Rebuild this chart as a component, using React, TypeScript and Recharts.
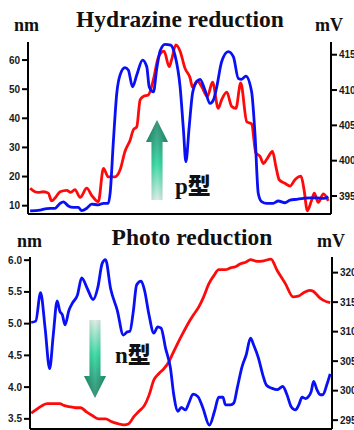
import React from 'react';
import { LineChart, Line, XAxis, YAxis } from 'recharts';

// ---------- Hydrazine reduction ----------
const hydBlueX = [0.7, 4.0, 6.2, 8.9, 10.6, 11.7, 13.3, 15.0, 16.6, 17.7, 19.4, 21.0, 23.2, 24.9, 26.5, 27.1, 28.2, 29.3, 30.4, 32.0, 33.1, 34.5, 35.9, 37.8, 39.2, 40.0, 41.4, 42.5, 43.6, 45.2, 47.1, 48.5, 50.2, 51.3, 52.1, 53.2, 54.3, 55.7, 56.8, 58.4, 60.1, 61.2, 62.3, 63.9, 66.1, 67.8, 69.4, 70.5, 71.9, 73.8, 74.9, 76.0, 77.1, 78.8, 80.9, 82.6, 84.8, 86.5, 88.7, 90.9, 93.1, 95.3, 97.5, 99.1];
const hydBlueNm = [8.2, 8.5, 9.0, 9.1, 10.8, 11.3, 9.9, 9.4, 9.4, 8.3, 9.1, 10.5, 10.3, 10.8, 10.8, 14.2, 32.5, 48.6, 54.9, 57.4, 56.6, 50.8, 54.9, 60.0, 57.7, 50.8, 49.1, 57.1, 63.1, 65.4, 65.1, 61.7, 50.8, 36.0, 25.1, 37.1, 48.6, 52.6, 53.4, 49.7, 45.1, 46.3, 50.8, 59.4, 62.9, 61.1, 53.7, 53.4, 54.5, 49.1, 34.8, 14.2, 11.4, 10.8, 10.8, 11.6, 11.0, 11.9, 12.2, 12.5, 12.7, 12.7, 12.5, 13.1];
const hydRedX = [0.7, 2.3, 3.4, 5.1, 6.7, 7.8, 8.9, 10.6, 12.8, 14.1, 15.5, 17.2, 19.4, 21.0, 23.2, 24.9, 26.5, 28.7, 30.4, 32.0, 33.7, 34.8, 35.9, 37.0, 38.1, 39.7, 41.4, 43.0, 44.9, 46.6, 47.4, 48.8, 50.2, 51.8, 53.5, 54.3, 55.9, 57.3, 59.2, 60.9, 62.8, 63.9, 65.6, 67.2, 68.6, 70.2, 72.2, 73.8, 75.2, 76.6, 77.7, 78.8, 80.7, 81.8, 82.9, 84.8, 86.5, 88.1, 90.1, 91.1, 92.2, 93.6, 94.5, 95.8, 97.5, 99.1];
const hydRedMv = [396.1, 395.6, 395.5, 395.6, 395.4, 394.3, 394.7, 395.6, 395.8, 395.5, 395.9, 394.8, 396.1, 395.1, 394.2, 398.9, 397.7, 397.7, 398.7, 401.3, 402.9, 404.4, 404.8, 408.6, 409.1, 409.3, 411.5, 414.6, 415.5, 413.3, 414.3, 416.4, 415.5, 413.1, 411.7, 410.4, 411.3, 410.5, 409.1, 411.1, 407.4, 408.6, 409.7, 407.7, 407.4, 411.0, 405.5, 405.2, 401.1, 400.6, 399.6, 400.2, 401.3, 399.2, 397.3, 396.8, 396.4, 397.3, 397.8, 395.9, 392.9, 394.4, 395.4, 394.1, 395.3, 394.3];
const hydNmTicks = [10, 20, 30, 40, 50, 60];
const hydMvTicks = [395, 400, 405, 410, 415];

// ---------- Photo reduction ----------
const phoBlueX = [0.4, 1.9, 3.5, 5.0, 6.5, 7.7, 9.0, 9.9, 10.7, 11.6, 12.9, 14.0, 15.7, 17.1, 19.0, 20.9, 22.5, 23.9, 25.0, 26.7, 28.9, 30.9, 32.2, 33.1, 34.2, 35.3, 36.8, 37.9, 39.4, 41.0, 42.3, 43.4, 44.9, 46.5, 47.6, 49.0, 50.1, 51.5, 52.6, 54.0, 55.6, 57.2, 59.4, 61.1, 62.5, 63.9, 64.7, 66.4, 67.5, 68.6, 70.2, 71.6, 73.0, 74.1, 75.7, 77.1, 78.3, 80.2, 81.8, 83.7, 85.1, 86.5, 87.9, 89.0, 90.1, 91.2, 92.0, 93.1, 93.9, 95.0, 96.1, 97.0, 98.3, 99.4];
const phoBlueNm = [5.02, 5.04, 5.49, 4.93, 4.29, 4.82, 5.36, 5.19, 5.14, 4.98, 5.21, 5.32, 5.45, 5.72, 5.55, 5.38, 5.58, 5.95, 6.01, 5.55, 5.21, 4.82, 4.87, 4.88, 5.19, 5.61, 5.67, 5.53, 5.14, 4.85, 4.95, 4.93, 4.61, 4.30, 3.88, 3.62, 3.68, 3.64, 3.75, 3.89, 3.85, 3.68, 3.40, 3.62, 3.84, 3.84, 3.72, 3.72, 3.75, 3.98, 4.32, 4.51, 4.77, 4.66, 4.45, 4.19, 4.03, 3.98, 3.96, 4.01, 3.88, 3.69, 3.64, 3.72, 3.84, 3.82, 3.84, 3.93, 4.09, 3.96, 3.88, 3.88, 4.04, 4.21];
const phoRedX = [0.4, 2.4, 4.1, 5.7, 7.9, 9.9, 11.2, 12.9, 15.1, 16.8, 18.7, 20.6, 22.8, 25.0, 27.2, 29.1, 31.1, 32.7, 34.4, 36.1, 37.9, 39.4, 41.0, 42.7, 44.3, 46.0, 47.1, 48.7, 50.9, 52.6, 54.2, 55.9, 57.5, 59.2, 60.9, 62.5, 64.7, 66.4, 68.0, 69.7, 71.6, 73.0, 75.2, 77.4, 79.8, 81.8, 84.6, 87.1, 88.8, 90.6, 92.6, 93.9, 95.6, 97.2, 99.4];
const phoRedMv = [296.2, 296.9, 297.5, 297.8, 297.8, 297.8, 297.5, 297.3, 297.1, 297.1, 296.4, 295.8, 295.2, 295.2, 294.7, 294.4, 294.2, 294.4, 295.6, 296.5, 297.5, 299.2, 301.8, 302.9, 303.7, 304.9, 306.1, 307.8, 310.0, 311.6, 312.9, 314.2, 315.9, 318.1, 319.5, 320.5, 320.5, 320.8, 321.0, 321.5, 321.8, 322.2, 321.9, 322.0, 322.3, 320.4, 318.1, 315.9, 316.0, 316.6, 317.0, 316.8, 315.9, 315.3, 314.9];
const phoNmTicks = [3.5, 4.0, 4.5, 5.0, 5.5, 6.0];
const phoMvTicks = [295, 300, 305, 310, 315, 320];

const zip = (xs: number[], ys: number[]) => xs.map((x, i) => ({ x, v: ys[i] }));

const tickStyle = { fontSize: 10, fontWeight: 'bold' as const, fill: '#1a1a1a', fontFamily: "'Liberation Sans', Arial, sans-serif" };
const BLUE = '#0a10f5';
const RED = '#ff0a0a';
const serif = "'Liberation Serif', 'Times New Roman', serif";

type PanelProps = {
  blue: { x: number; v: number }[];
  red: { x: number; v: number }[];
  nmDomain: [number, number];
  mvDomain: [number, number];
  nmTicks: number[];
  mvTicks: number[];
  leftW: number;
  rightW: number;
  fmt?: (v: number) => string;
};

function Panel({ blue, red, nmDomain, mvDomain, nmTicks, mvTicks, leftW, rightW, fmt }: PanelProps) {
  return (
    <LineChart width={354} height={215} margin={{ top: 42, right: 0, bottom: 0, left: 0 }}>
      <XAxis xAxisId="b" type="number" dataKey="x" domain={[0, 100]} height={1} tick={false} tickLine={false}
        axisLine={{ stroke: '#000', strokeWidth: 2 }} allowDataOverflow />
      <XAxis xAxisId="t" orientation="top" type="number" dataKey="x" domain={[0, 100]} height={0} tick={false} tickLine={false}
        axisLine={{ stroke: '#000', strokeWidth: 2 }} allowDataOverflow />
      <YAxis yAxisId="nm" orientation="left" width={leftW} domain={nmDomain} ticks={nmTicks} allowDataOverflow
        tick={tickStyle} tickFormatter={fmt} tickSize={6} tickMargin={2} interval={0}
        axisLine={{ stroke: '#000', strokeWidth: 2 }} tickLine={{ stroke: '#000', strokeWidth: 2 }} />
      <YAxis yAxisId="mv" orientation="right" width={rightW} domain={mvDomain} ticks={mvTicks} allowDataOverflow
        tick={{ ...tickStyle, textAnchor: 'start' }} tickSize={6} tickMargin={2} interval={0}
        axisLine={{ stroke: '#000', strokeWidth: 2 }} tickLine={{ stroke: '#000', strokeWidth: 2 }} />
      <Line xAxisId="b" yAxisId="mv" data={red} dataKey="v" type="monotone" stroke={RED} strokeWidth={2.8}
        dot={false} isAnimationActive={false} />
      <Line xAxisId="b" yAxisId="nm" data={blue} dataKey="v" type="monotone" stroke={BLUE} strokeWidth={2.8}
        dot={false} isAnimationActive={false} />
    </LineChart>
  );
}

function Arrow({ x, yTop, yBottom, up, id }: { x: number; yTop: number; yBottom: number; up: boolean; id: string }) {
  const shaftW = 11;
  const headW = 22;
  const headH = 22;
  let path: string;
  if (up) {
    path = `M ${x} ${yTop} L ${x + headW / 2} ${yTop + headH} L ${x + shaftW / 2} ${yTop + headH} L ${x + shaftW / 2} ${yBottom} L ${x - shaftW / 2} ${yBottom} L ${x - shaftW / 2} ${yTop + headH} L ${x - headW / 2} ${yTop + headH} Z`;
  } else {
    path = `M ${x} ${yBottom} L ${x + headW / 2} ${yBottom - headH} L ${x + shaftW / 2} ${yBottom - headH} L ${x + shaftW / 2} ${yTop} L ${x - shaftW / 2} ${yTop} L ${x - shaftW / 2} ${yBottom - headH} L ${x - headW / 2} ${yBottom - headH} Z`;
  }
  return (
    <g>
      <defs>
        <linearGradient id={id} x1="0" y1={up ? '0' : '1'} x2="0" y2={up ? '1' : '0'}>
          <stop offset="0%" stopColor="#17805f" />
          <stop offset="28%" stopColor="#1ea57c" />
          <stop offset="55%" stopColor="#22d69a" />
          <stop offset="100%" stopColor="#d6ece2" />
        </linearGradient>
        <linearGradient id={id + 'h'} x1="0" y1="0" x2="1" y2="0">
          <stop offset="0%" stopColor="#000" stopOpacity="0.18" />
          <stop offset="50%" stopColor="#fff" stopOpacity="0.15" />
          <stop offset="100%" stopColor="#000" stopOpacity="0.18" />
        </linearGradient>
      </defs>
      <path d={path} fill={`url(#${id})`} />
      <path d={path} fill={`url(#${id}h)`} />
    </g>
  );
}

export default function App() {
  const hydBlue = zip(hydBlueX, hydBlueNm);
  const hydRed = zip(hydRedX, hydRedMv);
  const phoBlue = zip(phoBlueX, phoBlueNm);
  const phoRed = zip(phoRedX, phoRedMv);
  return (
    <div style={{ position: 'absolute', left: 0, top: 0, width: 354, height: 430, overflow: 'hidden', background: '#fff' }}>
      <div style={{ position: 'absolute', left: 0, top: 0 }}>
        <Panel blue={hydBlue} red={hydRed} nmDomain={[7.14, 66.2]} mvDomain={[392.45, 416.8]}
          nmTicks={hydNmTicks} mvTicks={hydMvTicks} leftW={28} rightW={23} />
      </div>
      <div style={{ position: 'absolute', left: 0, top: 215 }}>
        <Panel blue={phoBlue} red={phoRed} nmDomain={[3.34, 6.05]} mvDomain={[293.5, 322.65]}
          nmTicks={phoNmTicks} mvTicks={phoMvTicks} leftW={30} rightW={22} fmt={(v) => v.toFixed(1)} />
      </div>
      <svg width={354} height={430} style={{ position: 'absolute', left: 0, top: 0, pointerEvents: 'none' }}>
        <text x={180} y={27} textAnchor="middle" fontFamily={serif} fontWeight="bold" fontSize={23.5} fill="#111">Hydrazine reduction</text>
        <text x={14} y={31} fontFamily={serif} fontWeight="bold" fontSize={18} fill="#111">nm</text>
        <text x={315} y={31} fontFamily={serif} fontWeight="bold" fontSize={18} fill="#111">mV</text>
        <text x={192} y={245} textAnchor="middle" fontFamily={serif} fontWeight="bold" fontSize={23.5} fill="#111">Photo reduction</text>
        <text x={17} y={247} fontFamily={serif} fontWeight="bold" fontSize={18} fill="#111">nm</text>
        <text x={317} y={247} fontFamily={serif} fontWeight="bold" fontSize={18} fill="#111">mV</text>
        <Arrow x={157} yTop={120} yBottom={200} up id="ga1" />
        <Arrow x={95} yTop={320} yBottom={398} up={false} id="ga2" />
        <text x={175} y={194} fontFamily={serif} fontWeight="bold" fontSize={23} fill="#111">p<tspan fontFamily="'Noto Sans CJK JP', sans-serif" fontWeight="900">型</tspan></text>
        <text x={115} y={363} fontFamily={serif} fontWeight="bold" fontSize={23} fill="#111">n<tspan fontFamily="'Noto Sans CJK JP', sans-serif" fontWeight="900">型</tspan></text>
      </svg>
    </div>
  );
}
